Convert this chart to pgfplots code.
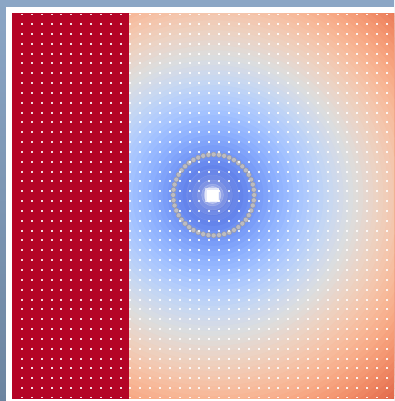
\documentclass[border=0pt]{standalone}
\usepackage{pgfplots}
\pgfplotsset{compat=1.18}
\usetikzlibrary{plotmarks}
\definecolor{bgtop}{RGB}{139,166,197}
\definecolor{bgbot}{RGB}{108,133,160}
\definecolor{cwred}{RGB}{180,4,38}
\definecolor{ringfill}{RGB}{188,188,194}
\definecolor{ringedge}{RGB}{150,150,160}
\pgfplotsset{colormap={coolwarm}{rgb255=(59,76,192) rgb255=(68,90,204) rgb255=(77,104,215) rgb255=(87,117,225) rgb255=(98,130,234) rgb255=(108,142,241) rgb255=(119,154,247) rgb255=(130,165,251) rgb255=(141,176,254) rgb255=(152,185,255) rgb255=(163,194,255) rgb255=(174,201,253) rgb255=(184,208,249) rgb255=(194,213,244) rgb255=(204,217,238) rgb255=(213,219,230) rgb255=(221,221,221) rgb255=(229,216,209) rgb255=(236,211,196) rgb255=(241,204,183) rgb255=(245,196,170) rgb255=(247,187,156) rgb255=(247,177,143) rgb255=(247,166,130) rgb255=(244,154,117) rgb255=(241,141,104) rgb255=(236,127,92) rgb255=(229,112,80) rgb255=(222,96,68) rgb255=(213,80,58) rgb255=(203,62,49) rgb255=(192,40,40) rgb255=(180,4,38)}}
\pgfplotstableread{
x y r t
213 195.5 275 0.866
213 195.5 270 0.852
213 195.5 265 0.838
213 195.5 260 0.824
213 195.5 255 0.811
213 195.5 250 0.797
213 195.5 245 0.783
213 195.5 240 0.769
213 195.5 235 0.755
213 195.5 230 0.742
213 195.5 225 0.728
213 195.5 220 0.714
213 195.5 215 0.700
213 195.5 210 0.686
213 195.5 205 0.673
213 195.5 200 0.659
213 195.5 195 0.645
213 195.5 190 0.631
213 195.5 185 0.617
213 195.5 180 0.604
213 195.5 175 0.590
213 195.5 170 0.576
213 195.5 165 0.562
213 195.5 160 0.548
213 195.5 155 0.535
213 195.5 150 0.521
213 195.5 145 0.507
213 195.5 140 0.494
213 195.5 135 0.477
213 195.5 130 0.461
213 195.5 125 0.444
213 195.5 120 0.428
213 195.5 115 0.411
213 195.5 110 0.395
213 195.5 105 0.378
213 195.5 100 0.362
213 195.5 95 0.345
213 195.5 90 0.329
213 195.5 85 0.312
213 195.5 80 0.296
213 195.5 75 0.279
213 195.5 70 0.263
213 195.5 65 0.246
213 195.5 60 0.230
213 195.5 55 0.213
213 195.5 50 0.197
213 195.5 45 0.180
213 195.5 40 0.164
213 195.5 35 0.147
213 195.5 30 0.131
213 195.5 25 0.114
213 195.5 20 0.098
213 195.5 15 0.081
213 195.5 10 0.065
213 195.5 5 0.048
}\fieldtable
\pgfplotsset{glow/.style={only marks, mark=*, color=white, opacity=#1,
  mark options={color=white, fill=white, draw=white, opacity=#1}}}
\begin{document}
\begin{tikzpicture}[x=1pt,y=1pt]
\useasboundingbox (0,0) rectangle (394,401);
\clip (0,0) rectangle (394,401);
\shade[top color=bgtop, bottom color=bgbot] (0,0) rectangle (394,401);
\fill[white] (6,0) rectangle (400,394);
\begin{axis}[at={(12pt,3pt)}, anchor=south west, scale only axis,
  width=382pt, height=384pt,
  xmin=12, xmax=394, ymin=14, ymax=398, y dir=reverse,
  colormap name=coolwarm, point meta min=0, point meta max=1,
  clip marker paths=true, axis on top,
  axis line style={draw=none}, tick style={draw=none},
  xtick={22,31.86,...,387}, ytick=\empty, xticklabel=\empty,
  xmajorgrids,
  major grid style={white, opacity=0.85, line width=2pt, line cap=butt,
    dash pattern=on 2pt off 7.84pt, dash phase=0.84pt}]
\addplot[scatter, only marks, mark=*, scatter src=explicit,
  scatter/use mapped color={draw=mapped color, fill=mapped color},
  mark options={line width=0.6pt},
  visualization depends on={\thisrow{r}\as\rr},
  scatter/@pre marker code/.append style={/tikz/mark size=\rr pt}]
  table[x=x, y=y, meta=t] {\fieldtable};
\addplot[fill=cwred, draw=none] coordinates {(0,0) (128.8,0) (128.8,410) (0,410)};
\addplot[glow=0.07, mark size=26pt] coordinates {(212.5,195)};
\addplot[glow=0.09, mark size=20pt] coordinates {(212.5,195)};
\addplot[glow=0.12, mark size=15pt] coordinates {(212.5,195)};
\addplot[glow=0.2, mark size=11pt] coordinates {(212.5,195)};
\addplot[glow=0.35, mark size=8.5pt] coordinates {(212.5,195)};
\addplot[glow=0.6, mark=square*, mark size=6.5pt] coordinates {(212,195)};
\addplot[glow=1, mark=square*, mark size=5pt] coordinates {(212,195)};
\addplot[only marks, mark=*, mark options={fill=ringfill, draw=ringedge, line width=0.4pt}, mark size=2.5pt] coordinates {
(254.2,195) (253.85,200.29) (252.82,205.48) (251.12,210.50) (248.77,215.25) (245.83,219.66) (242.34,223.64) (238.36,227.13) (233.95,230.07) (229.20,232.42) (224.18,234.12) (218.99,235.15) (213.7,235.5)
(208.41,235.15) (203.22,234.12) (198.20,232.42) (193.45,230.07) (189.04,227.13) (185.06,223.64) (181.57,219.66) (178.63,215.25) (176.28,210.50) (174.58,205.48) (173.55,200.29) (173.2,195)
(173.55,189.71) (174.58,184.52) (176.28,179.50) (178.63,174.75) (181.57,170.34) (185.06,166.36) (189.04,162.87) (193.45,159.93) (198.20,157.58) (203.22,155.88) (208.41,154.85) (213.7,154.5)
(218.99,154.85) (224.18,155.88) (229.20,157.58) (233.95,159.93) (238.36,162.87) (242.34,166.36) (245.83,170.34) (248.77,174.75) (251.12,179.50) (252.82,184.52) (253.85,189.71)};
\end{axis}
\end{tikzpicture}
\end{document}
